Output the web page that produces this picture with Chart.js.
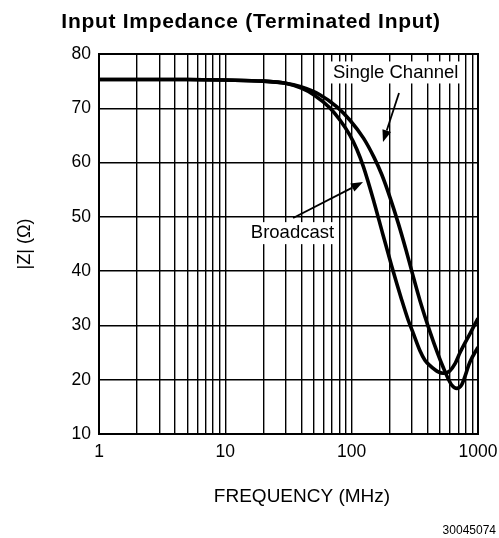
<!DOCTYPE html>
<html>
<head>
<meta charset="utf-8">
<script src="https://cdn.jsdelivr.net/npm/chart.js@4/dist/chart.umd.min.js"></script>
<style>
  html, body { margin: 0; padding: 0; background: #fff; }
  #wrap { width: 499px; height: 538px; position: relative; }
</style>
</head>
<body>
<div id="wrap"><canvas id="zChart"></canvas></div>
<script>
// Input impedance |Z| vs frequency
const broadcastFreq = [1, 5, 10, 20, 30, 40, 50, 67, 81, 97, 110, 124, 150, 176, 207, 249, 280, 308, 348, 380, 417, 480, 532, 596, 660, 721, 865, 1000];
const broadcastZ    = [75.3, 75.3, 75.2, 75.0, 74.6, 73.7, 72.5, 70.1, 67.8, 65.0, 62.4, 59.2, 52.8, 46.9, 41.0, 34.7, 31.0, 28.5, 25.3, 23.6, 22.6, 21.5, 21.2, 21.6, 23.0, 25.0, 28.5, 31.3];

const singleFreq = [1, 5, 10, 20, 30, 39, 56, 76, 97, 124, 150, 173, 201, 234, 270, 299, 348, 417, 480, 532, 580, 620, 679, 740, 865, 1000];
const singleZ    = [75.3, 75.3, 75.2, 75.0, 74.6, 74.0, 72.5, 70.3, 67.8, 64.5, 61.0, 57.8, 53.6, 48.8, 43.8, 40.0, 34.5, 28.8, 24.8, 22.2, 20.2, 19.0, 18.4, 19.0, 23.3, 26.0];

const xTickLabels = [1, 10, 100, 1000];
const yTickLabels = [10, 20, 30, 40, 50, 60, 70, 80];

// callouts, in data coordinates
const callouts = [
  { text: 'Single Channel', at: [223, 76.6], from: [237, 72.8], to: [177, 63.8] },
  { text: 'Broadcast',      at: [34, 47.0],  from: [34.4, 49.8], to: [123, 56.4] }
];

const FONT = '"Liberation Sans", Arial, sans-serif';

// grid positions 1,2,...,9,10,20,...,1000
const logGrid = [];
for (let d = 1; d <= 100; d *= 10) {
  for (let k = 1; k <= 9; k++) logGrid.push(k * d);
}
logGrid.push(1000);

function toPoints(xs, ys) {
  return xs.map((x, i) => ({ x, y: ys[i] }));
}

// ────────────────────────────────────────────────
// Text, callouts and frame
// ────────────────────────────────────────────────
const decorPlugin = {
  id: 'decor',
  afterDatasetsDraw(chart) {
    const ctx = chart.ctx;
    const xs = chart.scales.x, ys = chart.scales.y;
    ctx.save();
    ctx.fillStyle = '#000';
    ctx.strokeStyle = '#000';

    callouts.forEach(c => {
      const x0 = xs.getPixelForValue(c.from[0]), y0 = ys.getPixelForValue(c.from[1]);
      const x1 = xs.getPixelForValue(c.to[0]),   y1 = ys.getPixelForValue(c.to[1]);
      const ang = Math.atan2(y1 - y0, x1 - x0);
      const head = 12, half = 4.5;
      ctx.lineWidth = 1.8;
      ctx.beginPath();
      ctx.moveTo(x0, y0);
      ctx.lineTo(x1 - Math.cos(ang) * head, y1 - Math.sin(ang) * head);
      ctx.stroke();
      ctx.beginPath();
      ctx.moveTo(x1, y1);
      ctx.lineTo(x1 - Math.cos(ang) * head - Math.sin(ang) * half, y1 - Math.sin(ang) * head + Math.cos(ang) * half);
      ctx.lineTo(x1 - Math.cos(ang) * head + Math.sin(ang) * half, y1 - Math.sin(ang) * head - Math.cos(ang) * half);
      ctx.closePath();
      ctx.fill();

      const tx = xs.getPixelForValue(c.at[0]), ty = ys.getPixelForValue(c.at[1]);
      ctx.font = '18.5px ' + FONT;
      const w = ctx.measureText(c.text).width;
      ctx.fillStyle = '#fff';
      ctx.fillRect(tx - w / 2 - 3, ty - 11, w + 6, 22);
      ctx.fillStyle = '#000';
      ctx.textAlign = 'center';
      ctx.textBaseline = 'middle';
      ctx.fillText(c.text, tx, ty);
    });

    // frame
    const a = chart.chartArea;
    ctx.lineWidth = 2;
    ctx.strokeRect(a.left, a.top, a.right - a.left, a.bottom - a.top);

    // titles
    ctx.textAlign = 'center';
    ctx.textBaseline = 'middle';
    ctx.font = 'bold 21px ' + FONT;
    ctx.letterSpacing = '0.7px';
    ctx.fillText('Input Impedance (Terminated Input)', 251, 22);
    ctx.letterSpacing = '0px';
    ctx.font = '19px ' + FONT;
    ctx.fillText('FREQUENCY (MHz)', 302, 497);
    ctx.font = '12px ' + FONT;
    ctx.textAlign = 'right';
    ctx.fillText('30045074', 496, 531);

    ctx.translate(25, 244);
    ctx.rotate(-Math.PI / 2);
    ctx.textAlign = 'center';
    ctx.font = '18px ' + FONT;
    ctx.fillText('|Z| (\u03A9)', 0, 0);
    ctx.restore();
  }
};

const lineStyle = {
  borderColor: '#000',
  backgroundColor: '#000',
  borderWidth: 3.6,
  pointRadius: 0,
  cubicInterpolationMode: 'monotone',
  fill: false
};

new Chart(document.getElementById('zChart'), {
  type: 'line',
  data: {
    datasets: [
      { label: 'Single Channel', data: toPoints(singleFreq, singleZ), ...lineStyle },
      { label: 'Broadcast', data: toPoints(broadcastFreq, broadcastZ), ...lineStyle }
    ]
  },
  options: {
    responsive: true,
    maintainAspectRatio: false,
    animation: false,
    layout: { padding: { top: 54, right: 21, left: 0, bottom: 0 } },
    plugins: { legend: { display: false }, tooltip: { enabled: false } },
    scales: {
      x: {
        type: 'logarithmic',
        min: 1,
        max: 1000,
        afterBuildTicks: scale => { scale.ticks = logGrid.map(v => ({ value: v })); },
        afterFit: scale => {
          scale.height = 104;
          scale.paddingLeft = 0;
          scale.paddingRight = 0;
        },
        grid: { color: '#000', lineWidth: 1.4, drawTicks: false },
        border: { display: false },
        ticks: {
          autoSkip: false,
          maxRotation: 0,
          padding: 8,
          color: '#000',
          font: { family: FONT, size: 17.5 },
          callback: v => xTickLabels.includes(v) ? String(v) : ''
        }
      },
      y: {
        type: 'linear',
        min: 10,
        max: 80,
        afterBuildTicks: scale => { scale.ticks = yTickLabels.map(v => ({ value: v })); },
        afterFit: scale => {
          scale.width = 99;
          scale.paddingTop = 0;
          scale.paddingBottom = 0;
        },
        grid: { color: '#000', lineWidth: 1.4, drawTicks: false },
        border: { display: false },
        ticks: {
          padding: 8,
          color: '#000',
          font: { family: FONT, size: 17.5 }
        }
      }
    }
  },
  plugins: [decorPlugin]
});
</script>
</body>
</html>
